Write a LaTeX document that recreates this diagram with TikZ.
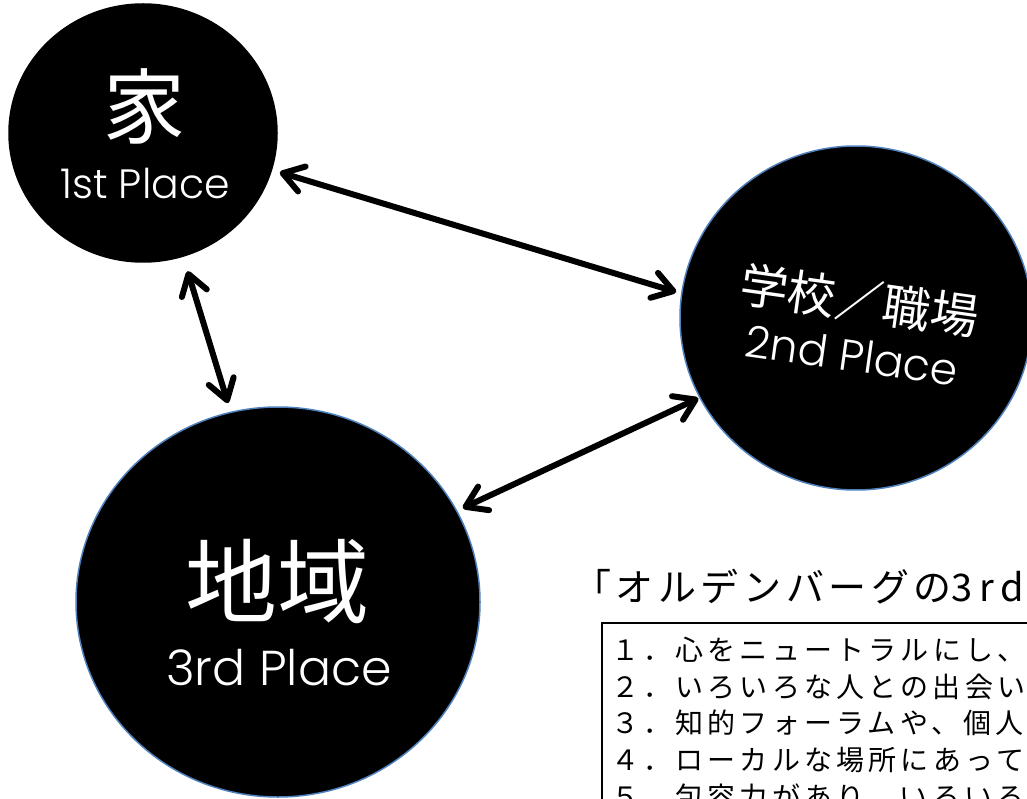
\documentclass[tikz,border=0pt]{standalone}
\usepackage{fontspec}
\setmainfont{Noto Sans CJK JP}
\newfontfamily\lat{Poppins}[UprightFont=* Light]
\usetikzlibrary{arrows.meta,shapes.geometric,calc}
\definecolor{rimblue}{RGB}{79,129,189}
\begin{document}
\begin{tikzpicture}[x=1pt,y=-1pt,
  place/.style={ellipse, fill=black, inner sep=0pt, line width=1.5pt},
  arr/.style={line width=6pt, line cap=round,
    {Straight Barb[round,length=20pt,width=26pt]}-{Straight Barb[round,length=20pt,width=26pt]}},
  wtxt/.style={text=white, inner sep=0pt},
  item/.style={anchor=base west, inner sep=0pt,
    font=\fontsize{28}{30}\selectfont\addfontfeature{LetterSpace=15}}]
\useasboundingbox (0,0) rectangle (1027,799);
\clip (0,0) rectangle (1027,799);
\fill[white] (0,0) rectangle (1027,799);
% circles
\node[place, draw=black, minimum width=268pt, minimum height=258pt] (home) at (143,133) {};
\node[place, draw=rimblue, minimum width=352pt, minimum height=344pt] (work) at (856,318) {};
\node[place, draw=rimblue, minimum width=404pt, minimum height=390pt] (local) at (278,602) {};
% texts in circles
\node[wtxt, font=\fontsize{82}{82}\selectfont] (homeJ) at (144,106) {家};
\node[wtxt, font=\lat\fontsize{41}{41}\selectfont] (homeE) at (145,183) {1st Place};
\node[wtxt, rotate=-8, align=center, font=\fontsize{44}{53}\selectfont] (workT) at (856,325)
  {{\fontsize{48}{53}\selectfont 学校／職場}\\{\lat 2nd Place}};
\node[wtxt, font=\fontsize{92}{92}\selectfont] (localJ) at (277,581) {地域};
\node[wtxt, font=\lat\fontsize{49}{49}\selectfont] (localE) at (279,668) {3rd Place};
% arrows
\draw[arr] ($(home.-16)!8pt!(work.172)$) -- ($(work.172)!5pt!(home.-16)$);
\draw[arr] ($(home.-72)!15pt!(local.104)$) -- ($(local.104)!9pt!(home.-72)$);
\draw[arr] ($(work.207)!1pt!(local.27)$) -- ($(local.27)!6pt!(work.207)$);
% title and list
\node[anchor=base west, inner sep=0pt,
  font=\fontsize{38}{38}\selectfont\addfontfeature{LetterSpace=12}] (title) at (573,601) {「オルデンバーグの{\addfontfeature{LetterSpace=18}3rd}};
\draw[line width=2pt] (602,623) rectangle (1060,840);
\node[item] (i1) at (611,660) {１．心をニュートラルにし、};
\node[item] (i2) at (611,697) {２．いろいろな人との出会い};
\node[item] (i3) at (611,733) {３．知的フォーラムや、個人};
\node[item] (i4) at (611,770) {４．ローカルな場所にあって};
\node[item] (i5) at (611,807) {５．包容力があり、いろいろ};
\end{tikzpicture}
\end{document}
